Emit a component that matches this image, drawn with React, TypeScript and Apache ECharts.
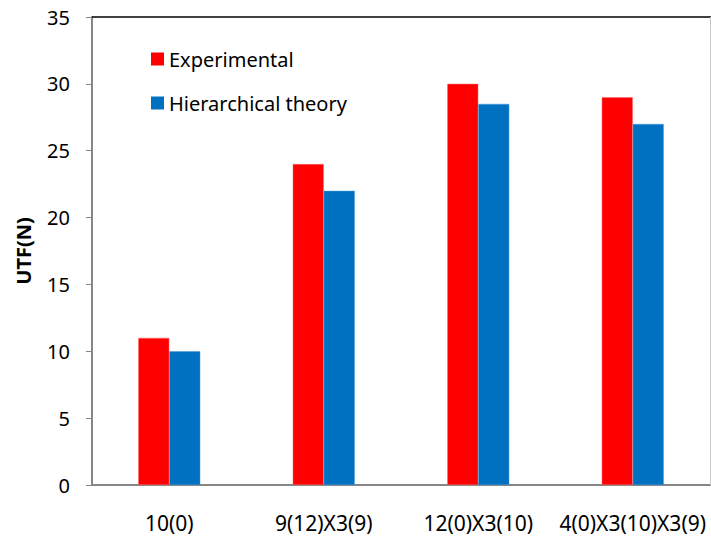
import React, { useEffect, useRef } from "react";
import * as echarts from "echarts";

const categories = ["10(0)", "9(12)X3(9)", "12(0)X3(10)", "4(0)X3(10)X3(9)"];
const experimental = [11, 24, 30, 29];
const hierarchical = [10, 22, 28.5, 27];
const seriesNames = ["Experimental", "Hierarchical theory"];
const yMin = 0;
const yMax = 35;
const yInterval = 5;
const yAxisName = "UTF(N)";

const FONT = "Noto Sans";

export default function App() {
  const ref = useRef<HTMLDivElement>(null);
  useEffect(() => {
    if (!ref.current) return;
    const chart = echarts.init(ref.current, undefined, { renderer: "svg" });
    chart.setOption({
      animation: false,
      backgroundColor: "#ffffff",
      textStyle: { fontFamily: FONT },
      grid: { left: 92, right: 1, top: 17, bottom: 53, containLabel: false },
      legend: {
        data: seriesNames,
        orient: "vertical",
        left: 151,
        top: 49,
        padding: 0,
        itemWidth: 13,
        itemHeight: 13,
        itemGap: 24,
        icon: "rect",
        itemStyle: { borderWidth: 0 },
        textStyle: { fontSize: 20, lineHeight: 20, color: "#000", fontFamily: FONT, padding: [0, 0, 0, 0] },
      },
      xAxis: {
        type: "category",
        data: categories,
        axisLine: { lineStyle: { color: "#868686", width: 2 } },
        axisTick: { show: false },
        axisLabel: { fontSize: 21, color: "#000", margin: 27, fontFamily: FONT, interval: 0, hideOverlap: false },
      },
      yAxis: {
        type: "value",
        min: yMin,
        max: yMax,
        interval: yInterval,
        name: yAxisName,
        nameLocation: "middle",
        nameRotate: 90,
        nameGap: 59,
        nameTextStyle: { fontSize: 20, fontWeight: "bold", color: "#000", fontFamily: FONT },
        axisLine: { show: true, lineStyle: { color: "#868686", width: 2 } },
        axisTick: { show: true, length: 6, lineStyle: { color: "#868686", width: 1 } },
        splitLine: { show: false },
        axisLabel: { fontSize: 20, color: "#000", margin: 22, fontFamily: FONT },
      },
      graphic: [
        { type: "line", shape: { x1: 92, y1: 17, x2: 711, y2: 17 }, style: { stroke: "#000", lineWidth: 1.5 }, z: 10 },
        { type: "line", shape: { x1: 710.5, y1: 17, x2: 710.5, y2: 485 }, style: { stroke: "#c8c8c8", lineWidth: 1 }, z: 10 },
      ],
      series: [
        {
          name: seriesNames[0],
          type: "bar",
          data: experimental,
          barWidth: 31,
          barGap: "0%",
          itemStyle: { color: "#ff0000", borderColor: "#ff6a6a", borderWidth: 0.5 },
        },
        {
          name: seriesNames[1],
          type: "bar",
          data: hierarchical,
          barWidth: 31,
          barGap: "0%",
          itemStyle: { color: "#0070c0", borderColor: "#4a9ad8", borderWidth: 0.5 },
        },
      ],
    });
    return () => chart.dispose();
  }, []);
  return (
    <div
      ref={ref}
      style={{ position: "fixed", left: 0, top: 0, width: 711, height: 538 }}
    />
  );
}
